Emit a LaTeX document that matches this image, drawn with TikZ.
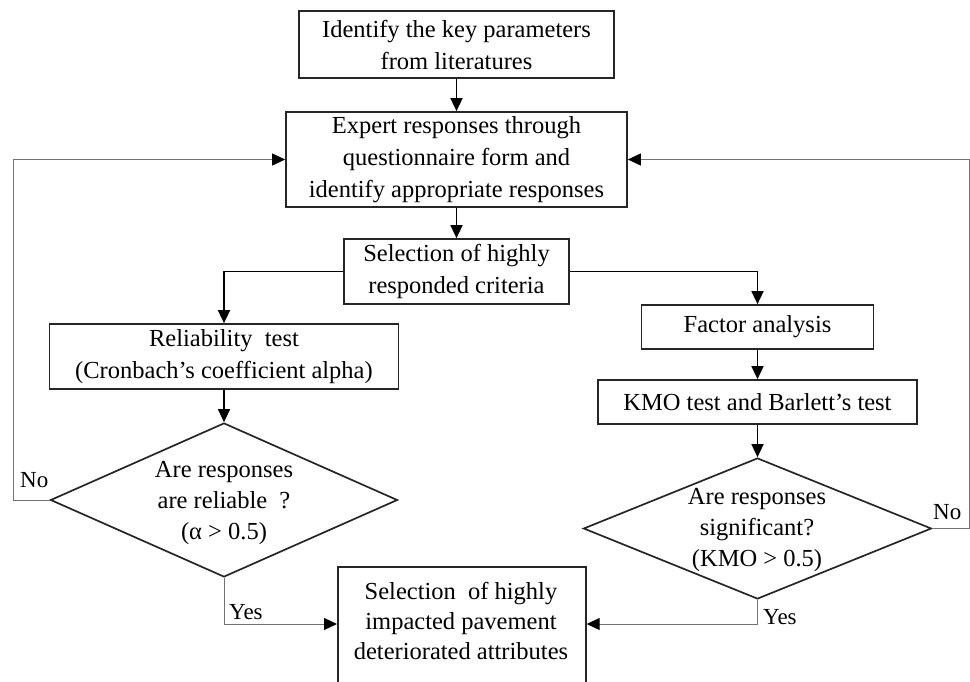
\documentclass[tikz,border=0pt]{standalone}
\usepackage{fontspec}
\setmainfont{Liberation Serif}
\usetikzlibrary{arrows.meta,shapes.geometric}
\begin{document}
\begin{tikzpicture}[x=1pt,y=-1pt,
  box/.style={draw=black!85,line width=1.7pt,rectangle,inner sep=0pt,align=center,
    font=\fontsize{24.5}{32}\selectfont},
  dia/.style={draw=black!85,line width=1.7pt,diamond,inner sep=0pt},
  dtext/.style={align=center,inner sep=0pt,font=\fontsize{24.5}{31}\selectfont},
  arr/.style={line width=1.5pt,black,-{Triangle[length=13pt,width=12pt]}},
  fb/.style={line width=1pt,black!55,-{Triangle[length=13pt,width=12pt,color=black,fill=black]}},
  lab/.style={inner sep=0pt,font=\fontsize{23}{28}\selectfont}]
\useasboundingbox (0,0) rectangle (970,682);
\clip (0,0) rectangle (970,682);
\fill[white] (0,0) rectangle (970,682);

\node[box,minimum width=315pt,minimum height=67pt] (b1) at (456.5,44.5)
  {Identify the key parameters\\from literatures};
\node[box,minimum width=341pt,minimum height=95pt] (b2) at (456.5,159.5)
  {Expert responses through\\questionnaire form and\\identify appropriate responses};
\node[box,minimum width=225pt,minimum height=65pt] (b3) at (456.5,271.5)
  {Selection of highly\\responded criteria};
\node[box,minimum width=349pt,minimum height=65pt] (rel) at (224,356.5)
  {Reliability\ \ test\\(Cronbach’s coefficient\ alpha)};
\node[box,minimum width=232pt,minimum height=44pt] (fac) at (757.5,327)
  {Factor analysis};
\node[box,minimum width=319pt,minimum height=44pt] (kmo) at (757.5,402)
  {KMO test and Barlett’s test};
\node[dia,minimum width=347pt,minimum height=154pt] (d1) at (224,500) {};
\node[dtext] (t1) at (224,503) {Are responses\\are reliable\ \ ?\\(α > 0.5)};
\node[dia,minimum width=348pt,minimum height=141pt] (d2) at (757.5,528.5) {};
\node[dtext] (t2) at (757,530) {Are responses\\significant?\\(KMO > 0.5)};
\node[box,minimum width=248pt,minimum height=132pt,anchor=north west] (fin) at (337,566) {};
\node[dtext,font=\fontsize{24.5}{30}\selectfont] (ft) at (461,621)
  {Selection\ \ of highly\\impacted pavement\\deteriorated attributes};

\coordinate (lx) at (13,0);
\coordinate (rx) at (969,0);
\coordinate (yb) at (0,624);

\draw[arr] (b1.south) -- (b2.north);
\draw[arr] (b2.south) -- (b3.north);
\draw[arr] (b3.west) -| (rel.north);
\draw[arr] (b3.east) -| (fac.north);
\draw[arr] (rel.south) -- (d1.north);
\draw[arr] (fac.south) -- (kmo.north);
\draw[arr] (kmo.south) -- (d2.north);

\draw[fb] (d1.west) -- (d1.west -| lx) |- (b2.west);
\draw[fb] (d2.east) -- (d2.east -| rx) |- (b2.east);
\draw[fb] (d1.south) -- (d1.south |- yb) -- (yb -| fin.west);
\draw[fb] (d2.south) -- (d2.south |- yb) -- (yb -| fin.east);

\node[lab,anchor=west] (no1) at (20,480) {No};
\node[lab,anchor=west] (no2) at (933,512) {No};
\node[lab,anchor=west] (yes1) at (229,612) {Yes};
\node[lab,anchor=west] (yes2) at (763,617) {Yes};
\end{tikzpicture}
\end{document}
